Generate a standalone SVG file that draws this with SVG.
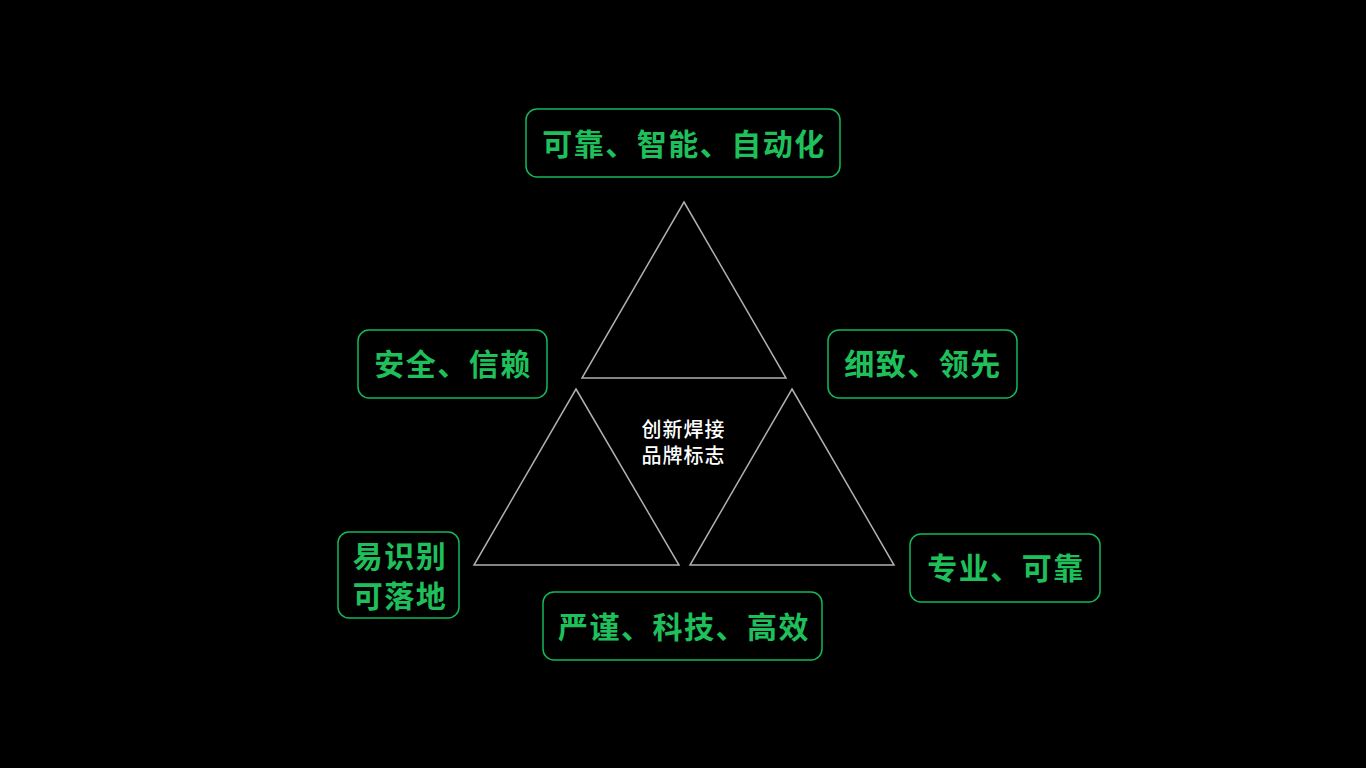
<svg xmlns="http://www.w3.org/2000/svg" width="1366" height="768" viewBox="0 0 1366 768">
<style>
.box{fill:#000;stroke:#14b85a;stroke-width:1.5}
.lbl{fill:#1fc05c;font-family:"Noto Sans CJK SC","Noto Sans",sans-serif;font-size:30px;font-weight:600;letter-spacing:1.5px;text-anchor:middle;dominant-baseline:central}
.tri{fill:none;stroke:#b0b0b0;stroke-width:1.5}
.ctr{fill:#fff;font-family:"Noto Sans CJK SC","Noto Sans",sans-serif;font-size:20px;font-weight:500;letter-spacing:1px;text-anchor:middle;dominant-baseline:central}
</style>
<rect width="1366" height="768" fill="#000"/>
<g id="triangles">
<polygon class="tri" points="684,202 786,378 582,378"/>
<polygon class="tri" points="576,389 679,565 474,565"/>
<polygon class="tri" points="792,389 894,565 690,565"/>
</g>
<g id="center"><text class="ctr" x="683.5" y="428">创新焊接</text><text class="ctr" x="683.5" y="454">品牌标志</text></g>
<g id="n-top"><rect class="box" x="526" y="109" width="314" height="68" rx="11"/><text class="lbl" x="684" y="142">可靠、智能、自动化</text></g>
<g id="n-left"><rect class="box" x="358" y="330" width="189" height="68" rx="11"/><text class="lbl" x="453" y="362">安全、信赖</text></g>
<g id="n-right"><rect class="box" x="828" y="330" width="189" height="68" rx="11"/><text class="lbl" x="923" y="362">细致、领先</text></g>
<g id="n-bl"><rect class="box" x="338" y="532" width="121" height="86" rx="11"/><text class="lbl" x="400" y="554">易识别</text><text class="lbl" x="400" y="594">可落地</text></g>
<g id="n-br"><rect class="box" x="910" y="534" width="190" height="68" rx="11"/><text class="lbl" x="1006" y="566">专业、可靠</text></g>
<g id="n-bottom"><rect class="box" x="543" y="592" width="279" height="68" rx="11"/><text class="lbl" x="684" y="625">严谨、科技、高效</text></g>
<g id="connectors"/>
</svg>
